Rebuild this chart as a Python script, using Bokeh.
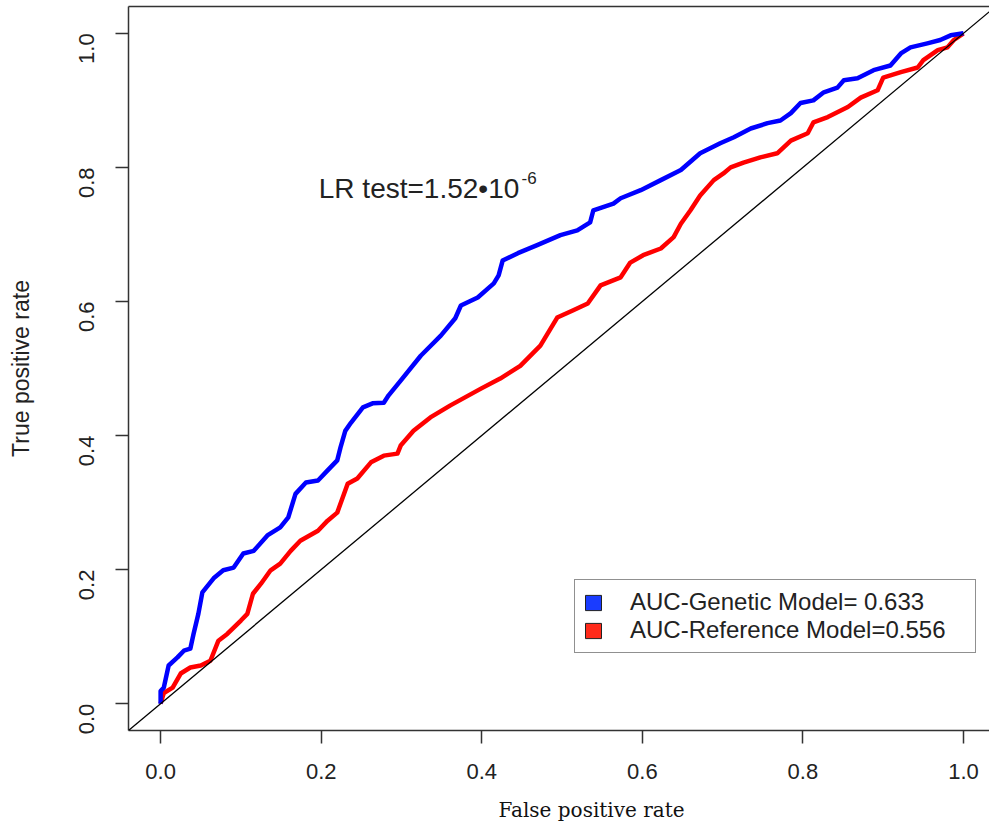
import math
from bokeh.plotting import figure
from bokeh.models import (Range1d, FixedTicker, LinearAxis, Slope, Label,
                          Legend, LegendItem, Title)
from bokeh.embed import file_html
from bokeh.resources import INLINE

# ---- data ----
genetic_fpr = [0.0, 0.0, 0.004, 0.010, 0.021, 0.029, 0.037, 0.041, 0.047, 0.052,
               0.066, 0.078, 0.091, 0.103, 0.116, 0.133, 0.149, 0.159, 0.168, 0.181,
               0.196, 0.208, 0.220, 0.224, 0.230, 0.237, 0.252, 0.264, 0.278, 0.284,
               0.299, 0.324, 0.349, 0.367, 0.374, 0.395, 0.415, 0.421, 0.426, 0.445,
               0.469, 0.498, 0.519, 0.535, 0.539, 0.564, 0.573, 0.598, 0.623, 0.648,
               0.672, 0.697, 0.714, 0.735, 0.756, 0.772, 0.785, 0.797, 0.813, 0.826,
               0.843, 0.851, 0.868, 0.888, 0.909, 0.922, 0.934, 0.955, 0.971, 0.984, 1.0]
genetic_tpr = [0.0, 0.019, 0.024, 0.057, 0.069, 0.079, 0.082, 0.104, 0.134, 0.166,
               0.187, 0.199, 0.203, 0.224, 0.228, 0.251, 0.263, 0.278, 0.313, 0.330,
               0.333, 0.348, 0.363, 0.382, 0.407, 0.419, 0.442, 0.448, 0.449, 0.460,
               0.482, 0.519, 0.549, 0.575, 0.594, 0.606, 0.627, 0.639, 0.661, 0.672,
               0.684, 0.699, 0.706, 0.718, 0.736, 0.746, 0.754, 0.766, 0.781, 0.796,
               0.821, 0.836, 0.845, 0.858, 0.866, 0.870, 0.881, 0.896, 0.900, 0.912,
               0.919, 0.930, 0.933, 0.945, 0.952, 0.970, 0.979, 0.985, 0.990, 0.997, 1.0]

reference_fpr = [0.0, 0.004, 0.015, 0.025, 0.037, 0.050, 0.062, 0.072, 0.083, 0.100,
                 0.108, 0.115, 0.125, 0.137, 0.149, 0.162, 0.174, 0.196, 0.208, 0.220,
                 0.233, 0.245, 0.262, 0.278, 0.295, 0.299, 0.315, 0.336, 0.361, 0.399,
                 0.423, 0.448, 0.473, 0.494, 0.514, 0.532, 0.548, 0.573, 0.585, 0.601,
                 0.623, 0.639, 0.648, 0.660, 0.672, 0.689, 0.701, 0.710, 0.726, 0.747,
                 0.768, 0.785, 0.806, 0.813, 0.831, 0.856, 0.872, 0.893, 0.900, 0.922,
                 0.943, 0.950, 0.968, 0.980, 0.988, 1.0]
reference_tpr = [0.0, 0.016, 0.024, 0.045, 0.054, 0.057, 0.064, 0.094, 0.104, 0.124,
                 0.134, 0.164, 0.179, 0.199, 0.209, 0.228, 0.243, 0.258, 0.273, 0.285,
                 0.328, 0.336, 0.360, 0.370, 0.373, 0.385, 0.407, 0.427, 0.445, 0.470,
                 0.485, 0.504, 0.534, 0.576, 0.587, 0.597, 0.624, 0.636, 0.658, 0.669,
                 0.679, 0.696, 0.716, 0.736, 0.758, 0.781, 0.791, 0.800, 0.807, 0.815,
                 0.821, 0.840, 0.851, 0.867, 0.875, 0.890, 0.904, 0.915, 0.934, 0.942,
                 0.949, 0.960, 0.975, 0.979, 0.990, 1.0]

tick_values = [0.0, 0.2, 0.4, 0.6, 0.8, 1.0]
tick_labels = ["0.0", "0.2", "0.4", "0.6", "0.8", "1.0"]
legend_labels = ["AUC-Genetic Model= 0.633", "AUC-Reference Model=0.556"]
x_title = "False positive rate"
y_title = "True positive rate"
annot_main = "LR test=1.52\u202210"
annot_sup = "-6"

BLUE = "#0000FF"
RED = "#FF0000"
INK = "#222222"
SANS = "Liberation Sans"
NAN = float("nan")

p = figure(width=989, height=836, output_backend="svg", toolbar_location=None,
           x_range=Range1d(-0.04, 1.0324), y_range=Range1d(-0.04, 1.04),
           min_border_left=128, min_border_right=0, min_border_top=6,
           min_border_bottom=106)
p.grid.visible = False
p.outline_line_color = None
p.background_fill_color = "white"
p.border_fill_color = "white"

for ax in (p.xaxis[0], p.yaxis[0]):
    ax.ticker = FixedTicker(ticks=tick_values)
    ax.major_label_overrides = {v: t for v, t in zip(tick_values, tick_labels)}
    ax.major_tick_out = 13
    ax.major_tick_in = 0
    ax.minor_tick_line_color = None
    ax.axis_line_width = 1.5
    ax.axis_line_color = "#333333"
    ax.major_tick_line_width = 1.5
    ax.major_tick_line_color = "#333333"
    ax.major_label_text_font = SANS
    ax.major_label_text_font_size = "22px"
    ax.major_label_text_color = INK

p.xaxis.major_label_standoff = 20
p.yaxis.major_label_standoff = 29
p.yaxis.major_label_orientation = math.pi / 2
p.yaxis.axis_label = y_title
p.yaxis.axis_label_text_font = SANS
p.yaxis.axis_label_text_font_size = "23px"
p.yaxis.axis_label_text_font_style = "normal"
p.yaxis.axis_label_text_color = INK
p.yaxis.axis_label_standoff = 35

top = LinearAxis(ticker=FixedTicker(ticks=[]), major_tick_out=0, major_tick_in=0,
                 major_label_standoff=0, major_label_text_font_size="0px",
                 minor_tick_line_color=None, axis_line_width=1.5,
                 axis_line_color="#333333")
p.add_layout(top, "above")

p.add_layout(Title(text=x_title, align="left", offset=370, standoff=28,
                   text_font="DejaVu Serif", text_font_size="20px",
                   text_font_style="normal", text_color="#111111"), "below")

p.add_layout(Slope(gradient=1, y_intercept=0, line_color="black", line_width=1.3))

p.line(reference_fpr, reference_tpr, line_color=RED, line_width=4.5,
       line_join="round")
p.line(genetic_fpr, genetic_tpr, line_color=BLUE, line_width=4.5,
       line_join="round")

# legend-only swatches (no visible data)
g_sw = p.quad(left=[NAN], right=[NAN], top=[NAN], bottom=[NAN],
              fill_color="#1a3cff", line_color="#222222", line_width=1)
r_sw = p.quad(left=[NAN], right=[NAN], top=[NAN], bottom=[NAN],
              fill_color="#ff2a1a", line_color="#222222", line_width=1)

legend = Legend(items=[LegendItem(label=legend_labels[0], renderers=[g_sw]),
                       LegendItem(label=legend_labels[1], renderers=[r_sw])],
                location=(446, 77), padding=8, spacing=0, margin=0,
                glyph_width=20, glyph_height=19, label_standoff=27,
                label_width=337,
                label_text_font=SANS, label_text_font_size="24px",
                label_text_color=INK,
                border_line_color="#222222", border_line_width=1.5,
                background_fill_color="white", background_fill_alpha=1.0)
p.add_layout(legend)

p.add_layout(Label(x=0.197, y=0.769, text=annot_main, text_font=SANS,
                   text_font_size="28px", text_color=INK,
                   text_baseline="alphabetic", text_align="left"))
p.add_layout(Label(x=0.4496, y=0.784, text=annot_sup, text_font=SANS,
                   text_font_size="17px", text_color=INK,
                   text_baseline="alphabetic", text_align="left"))

open("out.html", "w").write(file_html(p, INLINE))
